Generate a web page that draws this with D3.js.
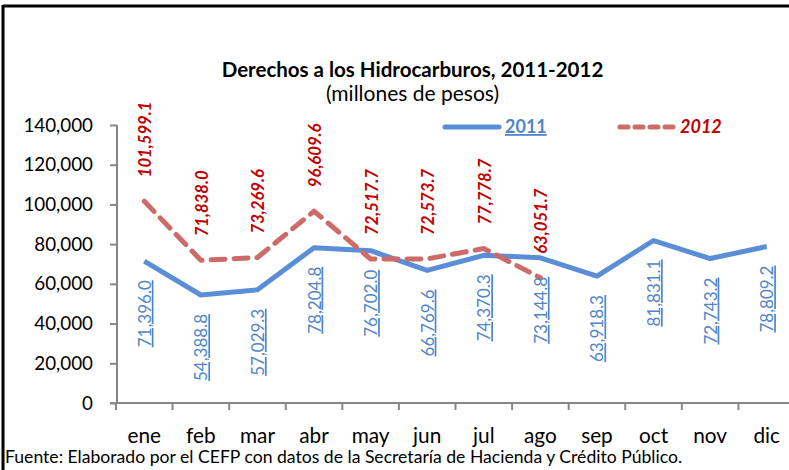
<!DOCTYPE html>
<html>
<head>
<meta charset="utf-8">
<script src="https://cdn.jsdelivr.net/npm/d3@7"></script>
<style>
  html, body { margin: 0; padding: 0; background: #fff; }
  svg { display: block; font-family: Lato, "Open Sans", sans-serif; }
</style>
</head>
<body>
<svg id="chart" width="789" height="470"></svg>
<script>
const months = ["ene","feb","mar","abr","may","jun","jul","ago","sep","oct","nov","dic"];
const values2011 = [71396.0, 54388.8, 57029.3, 78204.8, 76702.0, 66769.6, 74370.3, 73144.8, 63918.3, 81831.1, 72743.2, 78809.2];
const values2012 = [101599.1, 71838.0, 73269.6, 96609.6, 72517.7, 72573.7, 77778.7, 63051.7];
const yTicks = [0, 20000, 40000, 60000, 80000, 100000, 120000, 140000];
const seriesNames = ["2011", "2012"];
const titleText = "Derechos a los Hidrocarburos, 2011-2012";
const subtitleText = "(millones de pesos)";
const sourceText = "Fuente: Elaborado por el CEFP con datos de la  Secretaría de Hacienda y Crédito Público.";

const svg = d3.select("#chart");
const blue = "#5A8ED6", red = "#CC6B69", blueLabel = "#5085CC", redLabel = "#C00000", axisGray = "#878787";

// frame
svg.append("line").attr("x1", 3).attr("x2", 789).attr("y1", 6).attr("y2", 6).attr("stroke", "#000").attr("stroke-width", 3);
svg.append("line").attr("x1", 3).attr("x2", 3).attr("y1", 5).attr("y2", 470).attr("stroke", "#000").attr("stroke-width", 3);

const x = d3.scaleBand().domain(months).range([116, 795]);
const cx = m => x(m) + x.bandwidth() / 2;
const y = d3.scaleLinear().domain([0, 140000]).range([403, 125]);
const fmt = d3.format(",.1f");

// y axis
const yAxis = svg.append("g").attr("transform", "translate(117,0)")
  .call(d3.axisLeft(y).tickValues(yTicks).tickSize(7).tickPadding(17).tickFormat(d3.format(",")));
yAxis.select(".domain").attr("stroke", axisGray).attr("stroke-width", 2).attr("d", "M0,125V403");
yAxis.selectAll(".tick line").attr("stroke", axisGray).attr("stroke-width", 2);
yAxis.selectAll(".tick text").attr("font-size", 18.8).attr("fill", "#000").attr("font-family", "Lato");

// x axis
const xAxis = svg.append("g").attr("transform", "translate(0,403)")
  .call(d3.axisBottom(x).tickSize(0));
xAxis.select(".domain").attr("stroke", axisGray).attr("stroke-width", 2).attr("d", "M110,0H789");
xAxis.selectAll(".tick text").attr("y", 40).attr("dy", 0)
  .attr("font-size", 20.8).attr("fill", "#000").attr("font-family", "Lato");
// boundary ticks between categories
const bounds = months.map(m => x(m));
svg.append("g").selectAll("line").data(bounds).join("line")
  .attr("x1", d => d).attr("x2", d => d).attr("y1", 403).attr("y2", 410)
  .attr("stroke", axisGray).attr("stroke-width", 2);

// lines
const line = d3.line().x((d, i) => cx(months[i])).y(d => y(d));
svg.append("path").datum(values2011).attr("d", line)
  .attr("fill", "none").attr("stroke", blue).attr("stroke-width", 5).attr("stroke-linejoin", "round");
svg.append("path").datum(values2012).attr("d", line)
  .attr("fill", "none").attr("stroke", red).attr("stroke-width", 5)
  .attr("stroke-dasharray", "14,9").attr("stroke-linecap", "round").attr("stroke-linejoin", "round");

// labels 2011 (below)
svg.append("g").selectAll("text").data(values2011).join("text")
  .attr("transform", (d, i) => `translate(${cx(months[i]) + 6.5},${y(d) + 19}) rotate(-90)`)
  .attr("text-anchor", "end").attr("font-size", 17).attr("fill", blueLabel)
  .style("text-decoration", "underline")
  .text(d => fmt(d));

// labels 2012 (above)
svg.append("g").selectAll("text").data(values2012).join("text")
  .attr("transform", (d, i) => `translate(${cx(months[i]) + 7},${y(d) - 24}) rotate(-90)`)
  .attr("text-anchor", "start").attr("font-size", 16.7).attr("fill", redLabel)
  .attr("font-weight", "bold").attr("font-style", "italic")
  .text(d => fmt(d));

// title
svg.append("text").attr("x", 412.5).attr("y", 77).attr("text-anchor", "middle")
  .attr("font-size", 20.5).attr("font-weight", "bold").attr("fill", "#000").text(titleText);
svg.append("text").attr("x", 412.5).attr("y", 101).attr("text-anchor", "middle")
  .attr("font-size", 21).attr("fill", "#000").text(subtitleText);

// legend
const lg = svg.append("g");
lg.append("line").attr("x1", 445).attr("x2", 499).attr("y1", 127).attr("y2", 127)
  .attr("stroke", blue).attr("stroke-width", 5).attr("stroke-linecap", "round");
lg.append("text").attr("x", 505).attr("y", 133).attr("font-size", 18).attr("font-weight", "bold")
  .attr("fill", blueLabel).style("text-decoration", "underline").text(seriesNames[0]);
lg.append("line").attr("x1", 620).attr("x2", 675).attr("y1", 127).attr("y2", 127)
  .attr("stroke", red).attr("stroke-width", 5).attr("stroke-linecap", "round").attr("stroke-dasharray", "8,7");
lg.append("text").attr("x", 680).attr("y", 133).attr("font-size", 18).attr("font-weight", "bold")
  .attr("font-style", "italic").attr("fill", redLabel).text(seriesNames[1]);

// source
svg.append("text").attr("x", 5).attr("y", 463).attr("font-size", 17.6).attr("fill", "#000").text(sourceText);
</script>
</body>
</html>
